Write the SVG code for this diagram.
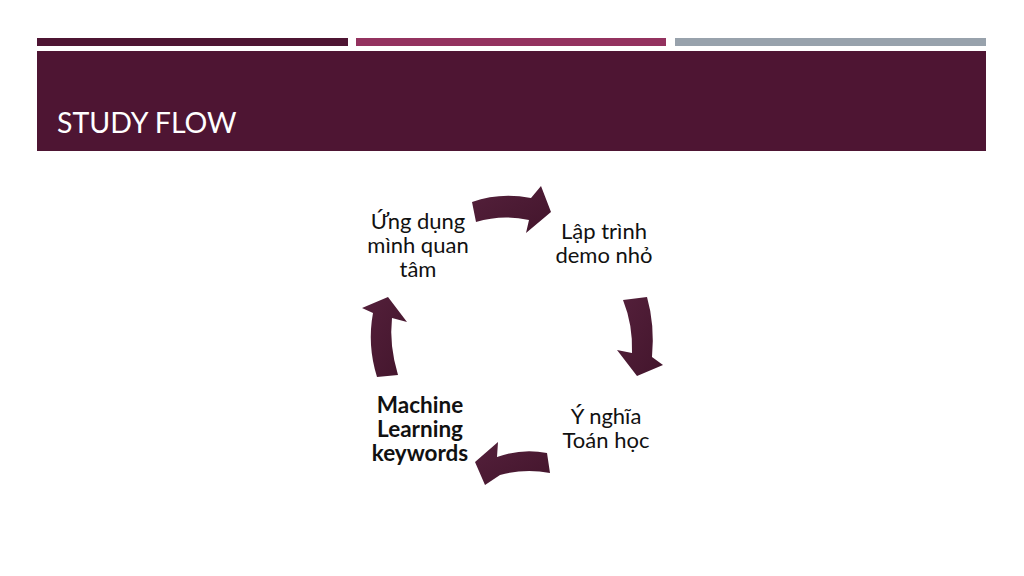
<svg xmlns="http://www.w3.org/2000/svg" width="1024" height="576" viewBox="0 0 1024 576">
<defs>
<style>
.t{font-family:"Lato","Noto Sans",sans-serif;font-size:22px;fill:#111;text-anchor:middle}
.b{font-weight:bold;font-size:22.5px}
.arr{fill:url(#g)}
</style>
<linearGradient id="g" x1="0" y1="0" x2="1" y2="1">
<stop offset="0" stop-color="#54203b"/>
<stop offset="1" stop-color="#43152c"/>
</linearGradient>
</defs>
<rect width="1024" height="576" fill="#fff"/>
<g id="header">
<rect x="37" y="38" width="311" height="8" fill="#4e1533"/>
<rect x="356" y="38" width="310" height="8" fill="#93325f"/>
<rect x="675" y="38" width="311" height="8" fill="#98a2ac"/>
<rect x="37" y="51" width="949" height="100" fill="#4e1533"/>
<text x="57" y="133" font-family="Lato, 'Noto Sans', sans-serif" font-size="28.5" fill="#fff">STUDY FLOW</text>
</g>
<g id="connectors">
<path class="arr" d="M472,202 Q500,192 531,198 L541,186 L551,212 L526,233 L529,220 Q502,214 476,222 Z"/>
<path class="arr" d="M623,300 L647,297 Q655,325 652,357 L663,365 L637,376 L617,350 L632,353 Q633,325 623,300 Z"/>
<path class="arr" d="M547,453 Q522,448 497,457 L498,442 L475,462 L485,485 L500,475 Q525,468 550,473 Z"/>
<path class="arr" d="M377,377 Q367,345 373,313 L362,308 L388,297 L407,322 L392,318 Q389,345 398,375 Z"/>
</g>
<g id="node-ung-dung">
<text class="t" x="418" y="229">Ứng dụng</text>
<text class="t" x="418" y="253">mình quan</text>
<text class="t" x="418" y="277">tâm</text>
</g>
<g id="node-lap-trinh">
<text class="t" x="604" y="239">Lập trình</text>
<text class="t" x="604" y="263">demo nhỏ</text>
</g>
<g id="node-y-nghia">
<text class="t" x="606" y="424">Ý nghĩa</text>
<text class="t" x="606" y="448">Toán học</text>
</g>
<g id="node-ml">
<text class="t b" x="420" y="413">Machine</text>
<text class="t b" x="420" y="437">Learning</text>
<text class="t b" x="420" y="461">keywords</text>
</g>
</svg>
